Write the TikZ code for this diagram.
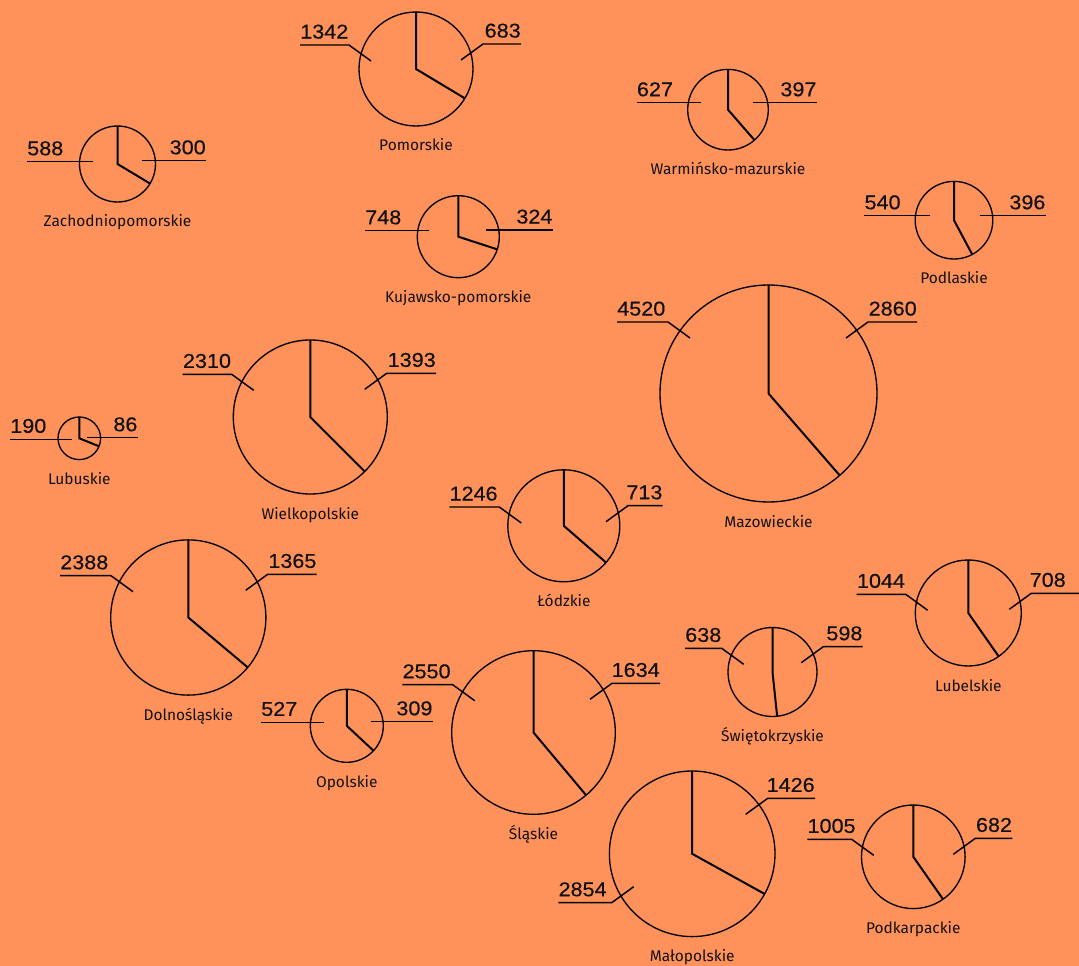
\documentclass[tikz,border=0pt]{standalone}
\usepackage{fontspec}
\setmainfont{Fira Sans}
\newfontfamily\numfont[FakeStretch=1.08,FakeBold=0.4]{Liberation Sans}
\usepackage{tikz}
\usetikzlibrary{positioning}
\definecolor{bgorange}{RGB}{255,146,90}
\definecolor{ink}{RGB}{17,17,17}

\begin{document}
\begin{tikzpicture}[x=0.75pt,y=-0.75pt,
    pie/.style={circle,draw,line width=1pt,inner sep=0pt,outer sep=0pt,minimum size=#1*1.5pt},
    cut/.style={line width=1.5pt},
    lead/.style={line width=1.1pt},
    region/.style={font=\fontsize{11.6}{13}\selectfont,text=ink,inner sep=0pt,below=18.75pt of #1,anchor=base},
    num/.style={font=\numfont\fontsize{15}{16}\selectfont,text=ink,inner xsep=0pt,inner ysep=4.5pt}]

    \path[fill=bgorange,use as bounding box] (0,0) rectangle (1079,966);

    % Pomorskie
    \node[pie=57] (pom) at (416,69) {};
    \draw[cut] (pom.north) -- (pom.center) -- (pom.-31.4);
    \node[region=pom] (pom-n) {Pomorskie};
    \node[num,anchor=south west] (pom-l) at (300,45) {1342};
    \node[num,anchor=south east] (pom-r) at (521,44) {683};
    \coordinate (pom-a) at (371,61);
    \coordinate (pom-b) at (461,60);
    \draw[lead] (pom-a) -- ++(-22,-16) -- (pom-l.south west);
    \draw[lead] (pom-b) -- ++(22,-16) -- (pom-r.south east);

    % Zachodniopomorskie
    \node[pie=38] (zach) at (117.5,164) {};
    \draw[cut] (zach.north) -- (zach.center) -- (zach.-31.6);
    \node[region=zach] (zach-n) {Zachodniopomorskie};
    \node[num,anchor=south west] (zach-l) at (27,161.7) {588};
    \node[num,anchor=south east] (zach-r) at (206,160.7) {300};
    \coordinate (zach-a) at (93,161.7);
    \coordinate (zach-b) at (142,160.7);
    \draw[lead] (zach-l.south west) -- (zach-a);
    \draw[lead] (zach-b) -- (zach-r.south east);

    % Warminsko-mazurskie
    \node[pie=40.3] (warm) at (728,109.7) {};
    \draw[cut] (warm.north) -- (warm.center) -- (warm.-49.6);
    \node[region=warm] (warm-n) {Warmińsko-mazurskie};
    \node[num,anchor=south west] (warm-l) at (636.7,102.7) {627};
    \node[num,anchor=south east] (warm-r) at (816.7,102.7) {397};
    \coordinate (warm-a) at (700.7,102.7);
    \coordinate (warm-b) at (753.3,102.7);
    \draw[lead] (warm-l.south west) -- (warm-a);
    \draw[lead] (warm-b) -- (warm-r.south east);

    % Podlaskie
    \node[pie=38.8] (podl) at (954,220.2) {};
    \draw[cut] (podl.north) -- (podl.center) -- (podl.-62.3);
    \node[region=podl] (podl-n) {Podlaskie};
    \node[num,anchor=south west] (podl-l) at (864.3,215.7) {540};
    \node[num,anchor=south east] (podl-r) at (1045.7,215.7) {396};
    \coordinate (podl-a) at (930,215.7);
    \coordinate (podl-b) at (979.7,215.7);
    \draw[lead] (podl-l.south west) -- (podl-a);
    \draw[lead] (podl-b) -- (podl-r.south east);

    % Kujawsko-pomorskie
    \node[pie=41] (kuj) at (458.3,236.7) {};
    \draw[cut] (kuj.north) -- (kuj.center) -- (kuj.-18.8);
    \node[region=kuj] (kuj-n) {Kujawsko-pomorskie};
    \node[num,anchor=south west] (kuj-l) at (365,230.7) {748};
    \node[num,anchor=south east] (kuj-r) at (552.7,230) {324};
    \coordinate (kuj-a) at (429.3,230.7);
    \coordinate (kuj-b) at (486,230);
    \draw[lead] (kuj-l.south west) -- (kuj-a);
    \draw[lead] (kuj-b) -- (kuj-r.south east);

    % Mazowieckie
    \node[pie=108.5] (maz) at (768.5,393.5) {};
    \draw[cut] (maz.north) -- (maz.center) -- (maz.-49.5);
    \node[region=maz] (maz-n) {Mazowieckie};
    \node[num,anchor=south west] (maz-l) at (617,322) {4520};
    \node[num,anchor=south east] (maz-r) at (917,322) {2860};
    \coordinate (maz-a) at (690,338);
    \coordinate (maz-b) at (846,338);
    \draw[lead] (maz-a) -- ++(-22,-16) -- (maz-l.south west);
    \draw[lead] (maz-b) -- ++(22,-16) -- (maz-r.south east);

    % Wielkopolskie
    \node[pie=77] (wiel) at (310.3,417) {};
    \draw[cut] (wiel.north) -- (wiel.center) -- (wiel.-45.4);
    \node[region=wiel] (wiel-n) {Wielkopolskie};
    \node[num,anchor=south west] (wiel-l) at (182.7,374.3) {2310};
    \node[num,anchor=south east] (wiel-r) at (436,373.3) {1393};
    \coordinate (wiel-a) at (253.7,390.3);
    \coordinate (wiel-b) at (364.7,389.3);
    \draw[lead] (wiel-a) -- ++(-22,-16) -- (wiel-l.south west);
    \draw[lead] (wiel-b) -- ++(22,-16) -- (wiel-r.south east);

    % Lubuskie
    \node[pie=21.3] (lub) at (79.3,438.3) {};
    \draw[cut] (lub.north) -- (lub.center) -- (lub.-22.2);
    \node[region=lub] (lub-n) {Lubuskie};
    \node[num,anchor=south west] (lub-l) at (10,439.3) {190};
    \node[num,anchor=south east] (lub-r) at (137.7,437.7) {86};
    \coordinate (lub-a) at (72.3,439.3);
    \coordinate (lub-b) at (87.3,437.7);
    \draw[lead] (lub-l.south west) -- (lub-a);
    \draw[lead] (lub-b) -- (lub-r.south east);

    % Lodzkie
    \node[pie=56] (lodz) at (563.8,525.8) {};
    \draw[cut] (lodz.north) -- (lodz.center) -- (lodz.-41);
    \node[region=lodz] (lodz-n) {Łódzkie};
    \node[num,anchor=south west] (lodz-l) at (449.3,507) {1246};
    \node[num,anchor=south east] (lodz-r) at (662.7,505.7) {713};
    \coordinate (lodz-a) at (521.3,523);
    \coordinate (lodz-b) at (606,521.7);
    \draw[lead] (lodz-a) -- ++(-22,-16) -- (lodz-l.south west);
    \draw[lead] (lodz-b) -- ++(22,-16) -- (lodz-r.south east);

    % Dolnoslaskie
    \node[pie=77.6] (doln) at (188.3,617.5) {};
    \draw[cut] (doln.north) -- (doln.center) -- (doln.-40.9);
    \node[region=doln] (doln-n) {Dolnośląskie};
    \node[num,anchor=south west] (doln-l) at (60,575.7) {2388};
    \node[num,anchor=south east] (doln-r) at (316.7,574.3) {1365};
    \coordinate (doln-a) at (133,591.7);
    \coordinate (doln-b) at (245.7,590.3);
    \draw[lead] (doln-a) -- ++(-22,-16) -- (doln-l.south west);
    \draw[lead] (doln-b) -- ++(22,-16) -- (doln-r.south east);

    % Opolskie
    \node[pie=36.5] (opol) at (346.8,725.8) {};
    \draw[cut] (opol.north) -- (opol.center) -- (opol.-43);
    \node[region=opol] (opol-n) {Opolskie};
    \node[num,anchor=south west] (opol-l) at (261,722.3) {527};
    \node[num,anchor=south east] (opol-r) at (432.7,721.7) {309};
    \coordinate (opol-a) at (324.3,722.3);
    \coordinate (opol-b) at (370.7,721.7);
    \draw[lead] (opol-l.south west) -- (opol-a);
    \draw[lead] (opol-b) -- (opol-r.south east);

    % Slaskie
    \node[pie=81.8] (slas) at (533.5,732.5) {};
    \draw[cut] (slas.north) -- (slas.center) -- (slas.-50.6);
    \node[region=slas] (slas-n) {Śląskie};
    \node[num,anchor=south west] (slas-l) at (402.3,684.7) {2550};
    \node[num,anchor=south east] (slas-r) at (660,683.3) {1634};
    \coordinate (slas-a) at (474.7,700.7);
    \coordinate (slas-b) at (590,699.3);
    \draw[lead] (slas-a) -- ++(-22,-16) -- (slas-l.south west);
    \draw[lead] (slas-b) -- ++(22,-16) -- (slas-r.south east);

    % Malopolskie
    \node[pie=82.8] (malo) at (692.2,853.8) {};
    \draw[cut] (malo.north) -- (malo.center) -- (malo.-29.9);
    \node[region=malo] (malo-n) {Małopolskie};
    \node[num,anchor=south west] (malo-l) at (558.3,902.7) {2854};
    \node[num,anchor=south east] (malo-r) at (815,798.3) {1426};
    \coordinate (malo-a) at (633.7,886.7);
    \coordinate (malo-b) at (745.7,814.3);
    \draw[lead] (malo-a) -- ++(-22,16) -- (malo-l.south west);
    \draw[lead] (malo-b) -- ++(22,-16) -- (malo-r.south east);

    % Swietokrzyskie
    \node[pie=44.5] (swie) at (772.5,672) {};
    \draw[cut] (swie.north) -- (swie.center) -- (swie.-84.2);
    \node[region=swie] (swie-n) {Świętokrzyskie};
    \node[num,anchor=south west] (swie-l) at (685,648.3) {638};
    \node[num,anchor=south east] (swie-r) at (862.7,646.7) {598};
    \coordinate (swie-a) at (743.7,664.3);
    \coordinate (swie-b) at (801.3,662.7);
    \draw[lead] (swie-a) -- ++(-22,-16) -- (swie-l.south west);
    \draw[lead] (swie-b) -- ++(22,-16) -- (swie-r.south east);

    % Lubelskie
    \node[pie=53] (lube) at (968.3,613) {};
    \draw[cut] (lube.north) -- (lube.center) -- (lube.-55.5);
    \node[region=lube] (lube-n) {Lubelskie};
    \node[num,anchor=south west] (lube-l) at (856.7,594.3) {1044};
    \node[num,anchor=south east] (lube-r) at (1066,593.3) {708};
    \coordinate (lube-a) at (927.7,610.3);
    \coordinate (lube-b) at (1009.3,609.3);
    \draw[lead] (lube-a) -- ++(-22,-16) -- (lube-l.south west);
    \draw[lead] (lube-b) -- ++(22,-16) -- (lube-r.south east) -- ++(14,0);

    % Podkarpackie
    \node[pie=51.8] (podk) at (913.3,856.8) {};
    \draw[cut] (podk.north) -- (podk.center) -- (podk.-55.5);
    \node[region=podk] (podk-n) {Podkarpackie};
    \node[num,anchor=south west] (podk-l) at (807.3,839.3) {1005};
    \node[num,anchor=south east] (podk-r) at (1012.3,838.3) {682};
    \coordinate (podk-a) at (873.7,855.3);
    \coordinate (podk-b) at (953.3,854.3);
    \draw[lead] (podk-a) -- ++(-22,-16) -- (podk-l.south west);
    \draw[lead] (podk-b) -- ++(22,-16) -- (podk-r.south east);
\end{tikzpicture}
\end{document}
